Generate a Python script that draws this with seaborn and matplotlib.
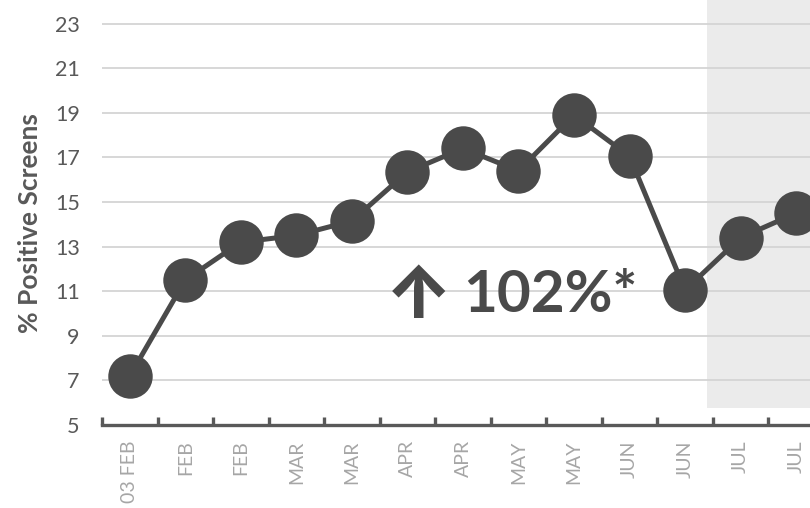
import matplotlib
matplotlib.use("Agg")
import matplotlib.pyplot as plt
import seaborn as sns
import pandas as pd

# Weekly share of positive screens
periods = ["03 FEB", "FEB", "FEB", "MAR", "MAR", "APR", "APR",
           "MAY", "MAY", "JUN", "JUN", "JUL", "JUL"]
positive_pct = [7.2, 11.5, 13.2, 13.5, 14.15, 16.35, 17.4,
                16.4, 18.9, 17.05, 11.05, 13.4, 14.5]
y_ticks = [5, 7, 9, 11, 13, 15, 17, 19, 21, 23]
change_arrow = "\u2191"
change_label = "102%*"

df = pd.DataFrame({"idx": range(len(periods)), "pct": positive_pct})

sns.set_theme(style="white")
plt.rcParams["font.family"] = ["Lato", "DejaVu Sans"]

fig = plt.figure(figsize=(8.1, 5.08), dpi=100)
ax = fig.add_axes([102 / 810, 83 / 508, 708 / 810, 425 / 508])

ymax = 5 + 425 / 22.3

# gridlines
for v in y_ticks[1:]:
    ax.axhline(v, color="#d4d4d4", lw=1.3, zorder=1)

sns.lineplot(data=df, x="idx", y="pct", ax=ax, color="#4a4a4a", lw=3.6,
             marker="o", markersize=32, markeredgewidth=0,
             markerfacecolor="#4a4a4a", zorder=3, clip_on=False)

# shaded recent period
ax.fill_between([10.4, 13], 5.76, ymax + 1, color="#ebebeb", zorder=0, lw=0)

# change annotation
ax.text(4.6, 9.82, change_arrow, fontsize=52, fontweight="heavy",
        color="#4a4a4a", ha="left", va="baseline", zorder=4,
        family=["Inter", "DejaVu Sans"])
ax.text(6.0, 10.05, change_label, fontsize=42, fontweight="bold",
        color="#4a4a4a", ha="left", va="baseline", zorder=4)

# axes styling
for s in ["left", "right", "top"]:
    ax.spines[s].set_visible(False)
ax.spines["bottom"].set_color("#595959")
ax.spines["bottom"].set_linewidth(2.4)

ax.set_yticks(y_ticks)
ax.set_yticklabels([str(v) for v in y_ticks], color="#595959", fontsize=15.5)
ax.tick_params(axis="y", left=False, length=0, pad=16)

bounds = [i - 0.5 for i in range(len(periods) + 1)]
ax.set_xticks(bounds)
ax.set_xticklabels([])
ax.tick_params(axis="x", which="major", bottom=True, direction="in",
               length=6, width=2.4, color="#595959")
ax.set_xticks(range(len(periods)), minor=True)
ax.set_xticklabels(periods, minor=True, rotation=90, color="#a6a6a6",
                   fontsize=14, va="top")
ax.tick_params(axis="x", which="minor", bottom=True, length=0, pad=11)

ax.set_xlabel("")
ax.set_ylabel("% Positive Screens", fontsize=19, fontweight="bold",
              color="#595959")
ax.yaxis.set_label_coords(-60 / 708, (425 - 223) / 425)

ax.set_xlim(-0.5, 12.25)
ax.set_ylim(5, ymax)

fig.savefig("out.png", dpi=100)
